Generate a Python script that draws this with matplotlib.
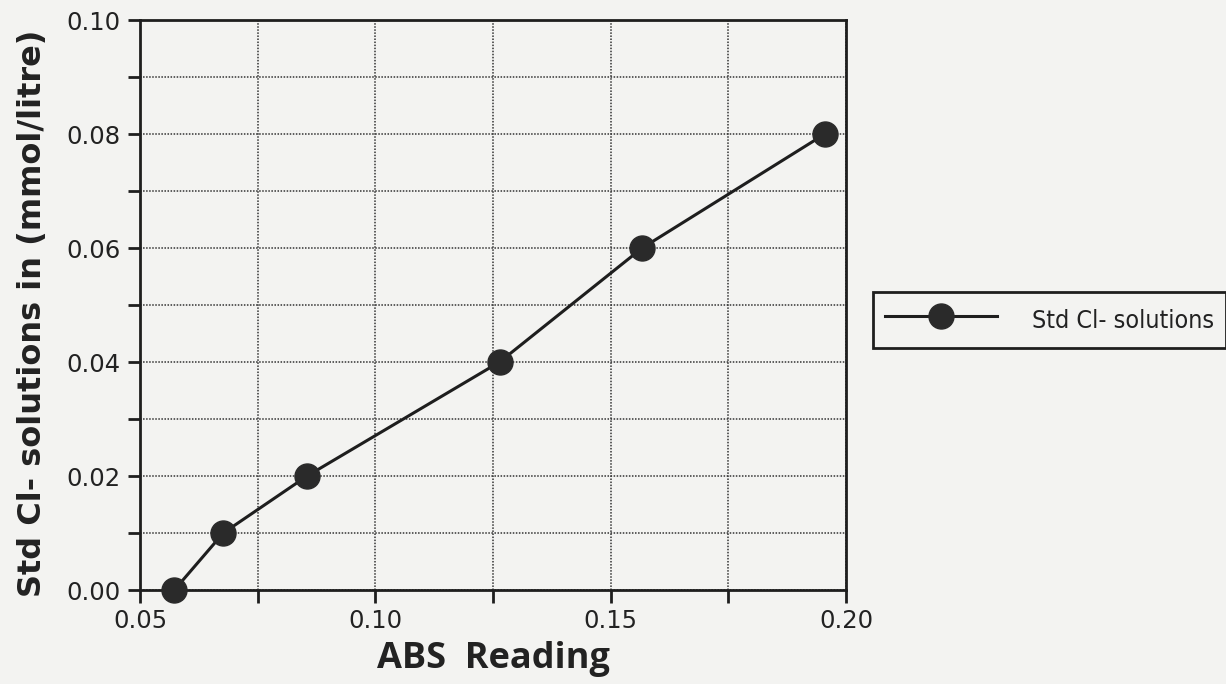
import matplotlib
matplotlib.use("Agg")
import matplotlib.pyplot as plt
from matplotlib.ticker import MultipleLocator, FormatStrFormatter
from matplotlib import font_manager as fm

abs_reading = [0.0573, 0.0677, 0.0855, 0.1264, 0.1567, 0.1955]
std_cl = [0.00, 0.01, 0.02, 0.04, 0.06, 0.08]
series_name = "Std Cl- solutions"
x_label = "ABS  Reading"
y_label = "Std Cl- solutions in (mmol/litre)"

bg = "#f3f3f1"
ink = "#1e1e1e"
W, H = 1226, 684


def find_narrow():
    for f in fm.fontManager.ttflist:
        if f.name == "Liberation Sans Narrow" and f.style == "normal" and f.weight in (400, "normal", "regular"):
            return fm.FontProperties(fname=f.fname), True
    for f in fm.fontManager.ttflist:
        st = str(f.stretch)
        if ("condensed" in st) and f.style == "normal" and f.weight in (400, "normal", "regular") \
                and "CJK" not in f.name:
            return fm.FontProperties(fname=f.fname), True
    return fm.FontProperties(family="Liberation Sans"), False


fig = plt.figure(figsize=(W / 100, H / 100), dpi=100, facecolor=bg)
ax = fig.add_axes([140 / W, 1 - 590 / H, (846 - 140) / W, (590 - 20) / H])
ax.set_facecolor(bg)

ax.plot(abs_reading, std_cl, color=ink, lw=2.2, marker="o", ms=18,
        markerfacecolor="#2a2a2a", markeredgecolor="#2a2a2a", label=series_name,
        clip_on=False, zorder=5)

ax.set_xlim(0.05, 0.20)
ax.set_ylim(0.0, 0.10)
ax.xaxis.set_major_locator(MultipleLocator(0.05))
ax.xaxis.set_minor_locator(MultipleLocator(0.025))
ax.yaxis.set_major_locator(MultipleLocator(0.02))
ax.yaxis.set_minor_locator(MultipleLocator(0.01))
ax.xaxis.set_major_formatter(FormatStrFormatter("%.2f"))
ax.yaxis.set_major_formatter(FormatStrFormatter("%.2f"))

ax.grid(True, which="both", color="#333333", linestyle=(0, (1, 1)), lw=1.1)
for s in ax.spines.values():
    s.set_color(ink)
    s.set_linewidth(2)
ax.tick_params(which="both", direction="out", length=9, width=2, color=ink,
               labelsize=17.5, labelcolor="#222222", pad=5)
for lab in ax.get_xticklabels() + ax.get_yticklabels():
    lab.set_fontfamily("DejaVu Sans")

ax.set_xlabel(x_label, fontsize=26, fontweight="bold", family="Open Sans",
              color="#222222", labelpad=0)
ax.xaxis.set_label_coords((493 - 140) / (846 - 140), -(668 - 590) / 570)
ax.xaxis.label.set_va("baseline")

fig.text(33 / W, 1 - 313 / H, y_label, rotation=90, ha="center", va="center",
         fontsize=23, fontweight="bold", family="DejaVu Sans", color="#222222")

fp, narrow = find_narrow()
fs = 18 if narrow else 15
fp.set_size(fs)
fs_px = fs * 100 / 72
leg = fig.legend(loc="upper left", bbox_to_anchor=(873 / W, 1 - 292 / H),
                 borderaxespad=0, handlelength=112 / fs_px, handletextpad=35 / fs_px,
                 handleheight=40 / fs_px,
                 frameon=True, fancybox=False, borderpad=12 / fs_px, framealpha=1,
                 prop=fp, labelcolor="#222222")
leg.get_frame().set_edgecolor(ink)
leg.get_frame().set_linewidth(2)
leg.get_frame().set_facecolor(bg)

fig.savefig("out.png", dpi=100, facecolor=bg)
